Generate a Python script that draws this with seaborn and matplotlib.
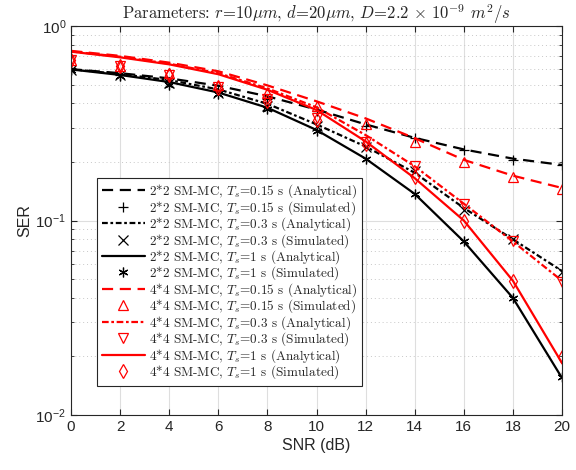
import numpy as np
import pandas as pd
import seaborn as sns
import matplotlib.pyplot as plt
import matplotlib.ticker as mtick

# SNR axis (dB)
snr = [0, 2, 4, 6, 8, 10, 12, 14, 16, 18, 20]

# 2*2 SM-MC
ser22_015_ana = [0.600, 0.572, 0.538, 0.493, 0.435, 0.372, 0.312, 0.266, 0.232, 0.208, 0.193]
ser22_015_sim = [0.597, 0.560, 0.515, 0.470, 0.420, 0.365, 0.305, 0.264, 0.230, 0.205, 0.193]
ser22_03_ana = [0.600, 0.566, 0.527, 0.472, 0.398, 0.312, 0.240, 0.176, 0.116, 0.080, 0.055]
ser22_03_sim = [0.597, 0.558, 0.510, 0.455, 0.390, 0.305, 0.240, 0.180, 0.113, 0.080, 0.0546]
ser22_1_ana = [0.598, 0.560, 0.515, 0.455, 0.380, 0.292, 0.208, 0.137, 0.078, 0.040, 0.0155]
ser22_1_sim = [0.594, 0.553, 0.497, 0.445, 0.375, 0.290, 0.207, 0.137, 0.078, 0.040, 0.0156]

# 4*4 SM-MC
ser44_015_ana = [0.745, 0.702, 0.648, 0.585, 0.495, 0.410, 0.335, 0.265, 0.205, 0.170, 0.147]
ser44_015_sim = [0.670, 0.625, 0.570, 0.495, 0.452, 0.390, 0.312, 0.254, 0.200, 0.168, 0.146]
ser44_03_ana = [0.740, 0.695, 0.640, 0.572, 0.478, 0.382, 0.275, 0.190, 0.122, 0.078, 0.049]
ser44_03_sim = [0.665, 0.620, 0.562, 0.485, 0.420, 0.335, 0.254, 0.190, 0.122, 0.078, 0.0485]
ser44_1_ana = [0.738, 0.690, 0.635, 0.565, 0.470, 0.370, 0.255, 0.165, 0.100, 0.049, 0.0185]
ser44_1_sim = [0.668, 0.622, 0.560, 0.480, 0.410, 0.330, 0.247, 0.167, 0.100, 0.049, 0.0198]

sns.set_style("ticks")
plt.rcParams['font.family'] = ['Liberation Sans', 'DejaVu Sans']

# (values, color, style, marker, label)
series = [
    (ser22_015_ana, "black", (0, (5, 3)), None, r"2*2 SM-MC, $T_s$=0.15 s (Analytical)"),
    (ser22_015_sim, "black", "", "+", r"2*2 SM-MC, $T_s$=0.15 s (Simulated)"),
    (ser22_03_ana, "black", (0, (2.6, 1.2, 1.2, 1.2)), None, r"2*2 SM-MC, $T_s$=0.3 s (Analytical)"),
    (ser22_03_sim, "black", "", "x", r"2*2 SM-MC, $T_s$=0.3 s (Simulated)"),
    (ser22_1_ana, "black", "-", None, r"2*2 SM-MC, $T_s$=1 s (Analytical)"),
    (ser22_1_sim, "black", "", (6, 2, 0), r"2*2 SM-MC, $T_s$=1 s (Simulated)"),
    (ser44_015_ana, "red", (0, (5, 3)), None, r"4*4 SM-MC, $T_s$=0.15 s (Analytical)"),
    (ser44_015_sim, "red", "", "^", r"4*4 SM-MC, $T_s$=0.15 s (Simulated)"),
    (ser44_03_ana, "red", (0, (3, 1.2, 1.2, 1.2)), None, r"4*4 SM-MC, $T_s$=0.3 s (Analytical)"),
    (ser44_03_sim, "red", "", "v", r"4*4 SM-MC, $T_s$=0.3 s (Simulated)"),
    (ser44_1_ana, "red", "-", None, r"4*4 SM-MC, $T_s$=1 s (Analytical)"),
    (ser44_1_sim, "red", "", "d", r"4*4 SM-MC, $T_s$=1 s (Simulated)"),
]

fig = plt.figure(figsize=(5.76, 4.70), dpi=100)
ax = fig.add_axes([0.1233, 0.117, 0.8524, 0.8277])

for vals, col, ls, mk, lab in series:
    df = pd.DataFrame({"snr": snr, "ser": vals})
    if mk is None:
        sns.lineplot(data=df, x="snr", y="ser", ax=ax, color=col, linestyle=ls,
                     linewidth=1.6, label=lab, errorbar=None, sort=False)
    else:
        sns.lineplot(data=df, x="snr", y="ser", ax=ax, color=col, linestyle="",
                     marker=mk, markersize=7, markerfacecolor="none",
                     markeredgecolor=col, markeredgewidth=0.9,
                     label=lab, errorbar=None, sort=False)

ax.set_yscale("log")
ax.set_xlim(0, 20)
ax.set_ylim(1e-2, 1)
ax.set_xticks(np.arange(0, 21, 2))
ax.yaxis.set_minor_locator(mtick.LogLocator(base=10, subs=np.arange(2, 10), numticks=20))
ax.yaxis.set_minor_formatter(mtick.NullFormatter())

ax.grid(True, which="major", color="#dedede", linewidth=0.8, linestyle="-")
ax.grid(True, which="minor", axis="y", color="#c8c8c8", linewidth=0.7, linestyle=(0, (1, 3)))
ax.set_axisbelow(True)

for sp in ax.spines.values():
    sp.set_visible(True)
    sp.set_color("#262626")
    sp.set_linewidth(0.8)
ax.tick_params(which="both", direction="in", top=True, right=True, colors="#262626",
               labelsize=11, labelcolor="#262626")
ax.tick_params(which="major", length=4)
ax.tick_params(which="minor", length=2)

ax.set_xlabel("SNR (dB)", fontsize=11.5, color="#262626", labelpad=3)
ax.set_ylabel("SER", fontsize=11.5, color="#262626", labelpad=2)
ax.set_title(r"Parameters: $r$=10$\mu m$, $d$=20$\mu m$, $D$=2.2 $\times\ 10^{-9}$ $m^2/s$",
             fontsize=12, family="cmr10", math_fontfamily="cm", pad=5)

leg = ax.legend(loc="lower left", bbox_to_anchor=(0.053, 0.075),
                prop={"family": "cmr10", "size": 9.5},
                frameon=True, fancybox=False, framealpha=1, edgecolor="#262626",
                handlelength=3.3, handletextpad=0.3, labelspacing=-0.1,
                borderpad=0.35, borderaxespad=0)
leg.get_frame().set_linewidth(0.8)
for t in leg.get_texts():
    t.set_math_fontfamily("cm")

plt.savefig("out.png", dpi=100)
